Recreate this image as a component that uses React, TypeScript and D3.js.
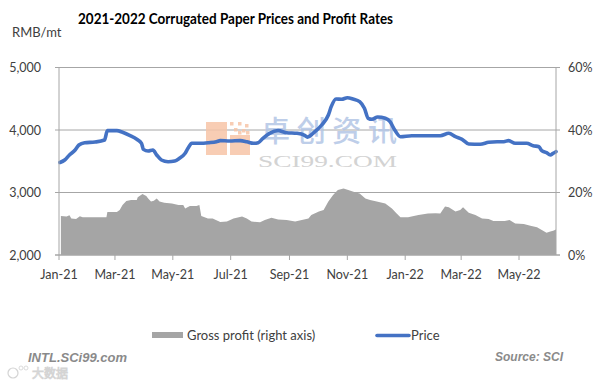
import React from "react";
import * as d3 from "d3";

const TITLE = "2021-2022 Corrugated Paper Prices and Profit Rates";
const LEFT_UNIT = "RMB/mt";
const LEFT_TICKS = [2000, 3000, 4000, 5000];
const RIGHT_TICKS = [0, 0.2, 0.4, 0.6];
const X_TICKS = ["2021-01-01", "2021-03-01", "2021-05-01", "2021-07-01", "2021-09-01", "2021-11-01", "2022-01-01", "2022-03-01", "2022-05-01"];
const X_DOMAIN = ["2021-01-01", "2022-06-09"];

const priceDates = [
  "2021-01-02", "2021-01-07", "2021-01-12", "2021-01-18", "2021-01-22", "2021-01-28", "2021-02-08", "2021-02-18", "2021-02-21",
  "2021-03-03", "2021-03-09", "2021-03-17", "2021-03-24", "2021-03-29", "2021-03-31", "2021-04-05", "2021-04-10", "2021-04-14",
  "2021-04-19", "2021-04-26", "2021-05-03", "2021-05-08", "2021-05-14", "2021-05-17", "2021-05-21", "2021-05-30", "2021-06-08",
  "2021-06-16", "2021-06-20", "2021-06-30", "2021-07-11", "2021-07-18", "2021-07-25", "2021-07-30", "2021-08-04", "2021-08-11",
  "2021-08-20", "2021-08-29", "2021-09-09", "2021-09-17", "2021-09-20", "2021-09-26", "2021-10-05", "2021-10-12", "2021-10-15",
  "2021-10-20", "2021-10-26", "2021-11-01", "2021-11-07", "2021-11-14", "2021-11-19", "2021-11-23", "2021-11-27", "2021-12-03",
  "2021-12-11", "2021-12-16", "2021-12-21", "2021-12-27", "2022-01-08", "2022-01-27", "2022-02-07", "2022-02-16", "2022-02-23",
  "2022-03-02", "2022-03-09", "2022-03-21", "2022-03-30", "2022-04-08", "2022-04-15", "2022-04-20", "2022-04-27", "2022-05-09",
  "2022-05-16", "2022-05-22", "2022-05-25", "2022-05-30", "2022-06-03", "2022-06-06", "2022-06-09"
];
const priceValues = [
  3480, 3520, 3600, 3680, 3760, 3797, 3808, 3840, 3990,
  3990, 3963, 3910, 3851, 3787, 3690, 3664, 3680, 3600,
  3520, 3493, 3504, 3547, 3627, 3707, 3787, 3787, 3797,
  3813, 3830, 3824, 3830, 3813, 3787, 3797, 3867, 3947,
  3990, 3957, 3947, 3915, 3885, 3950, 4080, 4240, 4373,
  4496, 4491, 4517, 4496, 4453, 4347, 4187, 4171, 4208,
  4187, 4133, 4000, 3893, 3909, 3909, 3909, 3947, 3893,
  3851, 3776, 3771, 3803, 3813, 3813, 3830, 3787, 3787,
  3749, 3733, 3669, 3637, 3600, 3627, 3653
];

const profitDates = [
  "2021-01-03", "2021-01-09", "2021-01-12", "2021-01-14", "2021-01-19", "2021-01-23", "2021-01-26", "2021-02-20", "2021-02-21",
  "2021-03-03", "2021-03-06", "2021-03-09", "2021-03-13", "2021-03-18", "2021-03-24", "2021-03-25", "2021-03-30", "2021-04-03",
  "2021-04-05", "2021-04-08", "2021-04-11", "2021-04-14", "2021-04-17", "2021-04-22", "2021-04-30", "2021-05-07", "2021-05-12",
  "2021-05-14", "2021-05-19", "2021-05-26", "2021-05-29", "2021-05-31", "2021-06-07", "2021-06-12", "2021-06-20", "2021-06-27",
  "2021-07-04", "2021-07-13", "2021-07-18", "2021-07-23", "2021-08-01", "2021-08-06", "2021-08-13", "2021-08-20", "2021-08-29",
  "2021-09-07", "2021-09-14", "2021-09-21", "2021-09-24", "2021-10-02", "2021-10-07", "2021-10-12", "2021-10-17", "2021-10-22",
  "2021-10-28", "2021-11-02", "2021-11-09", "2021-11-14", "2021-11-20", "2021-11-25", "2021-12-02", "2021-12-11", "2021-12-18",
  "2021-12-23", "2021-12-27", "2022-01-04", "2022-01-15", "2022-01-25", "2022-02-02", "2022-02-07", "2022-02-12", "2022-02-16",
  "2022-02-23", "2022-02-28", "2022-03-03", "2022-03-09", "2022-03-16", "2022-03-23", "2022-03-30", "2022-04-04", "2022-04-16",
  "2022-04-21", "2022-04-27", "2022-05-06", "2022-05-13", "2022-05-20", "2022-05-25", "2022-05-30", "2022-06-03", "2022-06-06",
  "2022-06-09"
];
const profitValues = [
  0.125, 0.123, 0.127, 0.117, 0.115, 0.124, 0.121, 0.121, 0.138,
  0.138, 0.144, 0.160, 0.173, 0.176, 0.176, 0.185, 0.195, 0.189,
  0.181, 0.171, 0.174, 0.181, 0.171, 0.167, 0.165, 0.160, 0.160,
  0.149, 0.157, 0.157, 0.160, 0.125, 0.117, 0.117, 0.106, 0.107,
  0.117, 0.123, 0.117, 0.107, 0.105, 0.112, 0.119, 0.114, 0.112,
  0.107, 0.112, 0.117, 0.128, 0.139, 0.144, 0.171, 0.192, 0.208,
  0.213, 0.208, 0.201, 0.197, 0.181, 0.176, 0.171, 0.165, 0.149,
  0.133, 0.121, 0.121, 0.128, 0.133, 0.134, 0.133, 0.155, 0.153,
  0.139, 0.144, 0.153, 0.135, 0.128, 0.117, 0.115, 0.109, 0.109,
  0.112, 0.101, 0.099, 0.094, 0.089, 0.080, 0.071, 0.075, 0.078,
  0.082
];

const LEGEND = ["Gross profit (right axis)", "Price"];
const FOOT_LEFT = "INTL.SCi99.com";
const FOOT_RIGHT = "Source: SCI";

const W = 613, H = 382;
const M = { left: 59, right: 556, top: 67.5, bottom: 255 };
const FONT = "Lato, 'Open Sans', sans-serif";
const BLUE = "#4472C4";
const GRAY = "#a5a5a5";
const GRID = "#a6a6a6";
const TEXT = "#404040";

export default function App() {
  const parse = d3.timeParse("%Y-%m-%d");
  const x = d3.scaleTime().domain(X_DOMAIN.map((s) => parse(s) as Date)).range([M.left, M.right]);
  const yL = d3.scaleLinear().domain([2000, 5000]).range([M.bottom, M.top]);
  const yR = d3.scaleLinear().domain([0, 0.6]).range([M.bottom, M.top]);

  const price = priceDates.map((d, i) => ({ d: parse(d) as Date, v: priceValues[i] }));
  const profit = profitDates.map((d, i) => ({ d: parse(d) as Date, v: profitValues[i] }));

  const line = d3.line<{ d: Date; v: number }>().x((p) => x(p.d)).y((p) => yL(p.v)).curve(d3.curveMonotoneX);
  const area = d3.area<{ d: Date; v: number }>().x((p) => x(p.d)).y0(yR(0)).y1((p) => yR(p.v));
  const fmt = d3.format(",");
  const pct = d3.format(".0%");

  return (
    <svg width={W} height={H} style={{ position: "absolute", left: 0, top: 0, background: "#fff" }} fontFamily={FONT}>
      <rect x={0} y={0} width={W} height={H} fill="#fff" />
      <text x={78} y={24} fontSize={15} fontWeight="bold" fill="#000" textLength={315} lengthAdjust="spacingAndGlyphs">{TITLE}</text>
      <text x={12} y={37} fontSize={13} fill={TEXT}>{LEFT_UNIT}</text>

      {/* gridlines */}
      {LEFT_TICKS.map((t) => (
        <g key={t}>
          <line x1={M.left - 4} x2={M.right} y1={yL(t)} y2={yL(t)} stroke={GRID} strokeWidth={1} />
          <text x={41} y={yL(t) + 4.5} textAnchor="end" fontSize={12.5} fill={TEXT}>{fmt(t)}</text>
        </g>
      ))}
      {RIGHT_TICKS.map((t) => (
        <g key={t}>
          <line x1={M.right} x2={M.right + 4} y1={yR(t)} y2={yR(t)} stroke={GRID} />
          <text x={568} y={yR(t) + 4.5} fontSize={12.5} fill={TEXT}>{pct(t)}</text>
        </g>
      ))}

      {/* watermark */}
      <g opacity={0.85}>
        <rect x={206} y={122} width={21} height={33} fill="#f7c5a8" />
        <rect x={230} y={135} width={20} height={20} fill="#f7c5a8" />
        {[[230, 122], [238, 122], [245, 124], [234, 128], [242, 129], [238, 131], [246, 131]].map(([a, b], i) => (
          <rect key={i} x={a} y={b} width={3.5} height={3.5} fill="#f7c5a8" />
        ))}
        <text x={261} y={142} fontSize={29} fontWeight={500} fill="#b3c6e6" textLength={136} lengthAdjust="spacing" fontFamily="'Noto Sans CJK SC', sans-serif">卓创资讯</text>
        <text x={258} y={167} fontSize={16} fill="#cccccc" textLength={139} lengthAdjust="spacingAndGlyphs" fontFamily="'Liberation Serif', serif">SCI99.COM</text>
      </g>

      {/* series */}
      <path d={area(profit) || ""} fill={GRAY} />
      <path d={line(price) || ""} fill="none" stroke={BLUE} strokeWidth={3.6} strokeLinejoin="round" strokeLinecap="round" />

      {/* axes */}
      <line x1={M.left} x2={M.left} y1={M.top} y2={M.bottom} stroke={GRID} />
      <line x1={M.right} x2={M.right} y1={M.top} y2={M.bottom} stroke={GRID} />
      <line x1={M.left - 4} x2={M.right + 4} y1={M.bottom} y2={M.bottom} stroke={GRID} />
      {X_TICKS.map((s) => {
        const xx = x(parse(s) as Date);
        return (
          <g key={s}>
            <line x1={xx} x2={xx} y1={M.bottom} y2={M.bottom + 5} stroke={GRID} />
            <text x={xx} y={279} textAnchor="middle" fontSize={12.5} fill={TEXT}>{d3.timeFormat("%b-%y")(parse(s) as Date)}</text>
          </g>
        );
      })}

      {/* legend */}
      <rect x={152} y={332} width={31} height={6} fill={GRAY} />
      <text x={187} y={340} fontSize={13} fill={TEXT}>{LEGEND[0]}</text>
      <line x1={377} x2={409} y1={335.5} y2={335.5} stroke={BLUE} strokeWidth={3.6} strokeLinecap="round" />
      <text x={411} y={340} fontSize={13} fill={TEXT}>{LEGEND[1]}</text>

      {/* footer */}
      <text x={28} y={362} fontSize={13} fontWeight="bold" fontStyle="italic" fill="#8a8a8a" fontFamily="'Liberation Sans', Arial, sans-serif">{FOOT_LEFT}</text>
      <text x={563} y={361} textAnchor="end" fontSize={12} fontWeight="bold" fontStyle="italic" fill="#8a8a8a" fontFamily="'Liberation Sans', Arial, sans-serif">{FOOT_RIGHT}</text>
      <g opacity={0.5}>
        <circle cx={13} cy={373} r={5} fill="none" stroke="#aaa" strokeWidth={1.2} />
        <circle cx={21} cy={368} r={2} fill="none" stroke="#aaa" strokeWidth={0.8} />
        <circle cx={26} cy={368} r={2} fill="none" stroke="#aaa" strokeWidth={0.8} />
        <text x={32} y={378} fontSize={12} fill="#fff" stroke="#aaa" strokeWidth={0.8} fontFamily="'Noto Sans CJK SC', sans-serif">大数据</text>
      </g>
    </svg>
  );
}
